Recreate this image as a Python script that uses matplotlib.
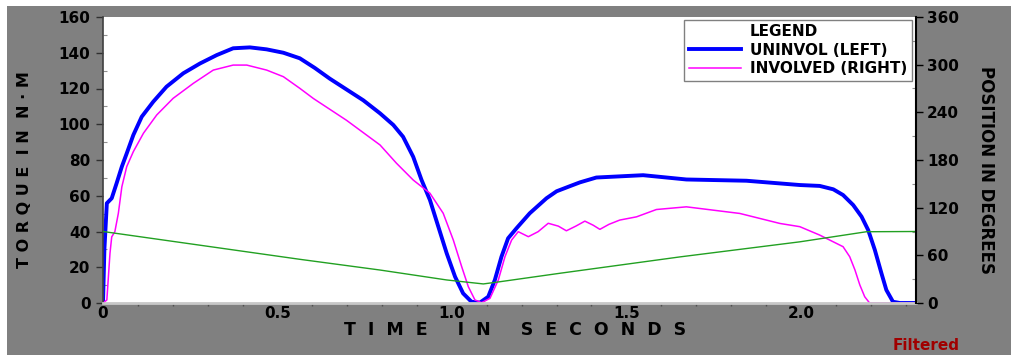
import numpy as np
import matplotlib.pyplot as plt
from matplotlib.lines import Line2D
from matplotlib.patches import Rectangle
from matplotlib.ticker import MultipleLocator

# uninvolved side torque (N-m)
t_left = [0, 0.004, 0.011, 0.025, 0.039, 0.054, 0.068, 0.087, 0.111, 0.144, 0.182,
          0.23, 0.278, 0.326, 0.373, 0.421, 0.469, 0.517, 0.564, 0.607, 0.65, 0.746,
          0.794, 0.832, 0.86, 0.889, 0.913, 0.937, 0.961, 0.985, 1.009, 1.032,
          1.056, 1.08, 1.104, 1.123, 1.142, 1.161, 1.185, 1.223, 1.271, 1.3,
          1.34, 1.367, 1.414, 1.548, 1.672, 1.844, 1.997, 2.054, 2.093, 2.121, 2.15,
          2.174, 2.193, 2.212, 2.231, 2.245, 2.264, 2.284, 2.33]
torque_left = [0, 30, 55.8, 58.6, 67, 76.3, 83.7, 94, 104.2, 112.6, 121,
               128.5, 134, 138.7, 142.5, 143, 141.9, 140, 136.9, 131.5, 125.5, 113.4,
               106.1, 99.6, 93, 81.8, 68.8, 57.6, 42.7, 27.8, 14.7, 5.4,
               0.7, 0.2, 3.5, 12.9, 25.9, 36.2, 41.8, 50.2, 58.6, 62.5,
               65.5, 67.5, 70.2, 71.5, 69.1, 68.4, 66, 65.5, 63.6, 60.4, 54.8,
               48.3, 40.8, 29.7, 16.6, 7.3, 0.7, 0, 0]

# involved side torque (N-m)
t_right = [0, 0.011, 0.02, 0.025, 0.034, 0.044, 0.054, 0.068, 0.087, 0.116, 0.154,
           0.201, 0.259, 0.316, 0.373, 0.412, 0.469, 0.517, 0.564, 0.603, 0.698,
           0.794, 0.841, 0.889, 0.937, 0.975, 1.004, 1.028, 1.047, 1.066, 1.085,
           1.109, 1.133, 1.152, 1.171, 1.19, 1.219, 1.247, 1.276, 1.305, 1.328,
           1.355, 1.381, 1.405, 1.424, 1.45, 1.481, 1.529, 1.586, 1.672, 1.825,
           1.94, 1.997, 2.054, 2.121, 2.14, 2.155, 2.169, 2.183, 2.197, 2.33]
torque_right = [0, 1.7, 27.8, 37, 39.9, 50.2, 65, 76.3, 84.7, 95, 105.2,
                114.5, 122.9, 130.3, 133.1, 133.1, 130.3, 126.6, 120.1, 114.4, 102.2,
                88.4, 78.2, 68.8, 61.4, 50.2, 35.2, 20.3, 9.1, 1.7, 0.2,
                2.6, 12.9, 25.9, 35.2, 39.9, 37.1, 39.9, 44.6, 43, 40.4,
                43, 45.8, 43.5, 41.2, 44, 46.4, 48.2, 52.3, 53.8, 50.1,
                44.5, 42.7, 38, 31.5, 25.9, 18.5, 10.1, 3.5, 0, 0]

# joint position (degrees)
t_pos = [0, 0.564, 0.794, 0.985, 1.09, 1.138, 1.309, 1.653, 1.997, 2.188, 2.33]
position = [90, 55, 41.5, 29, 24, 26.8, 37.4, 58, 77, 89.7, 90]

x_ticks = [0, 0.5, 1.0, 1.5, 2.0]
x_ticklabels = ['0', '0.5', '1.0', '1.5', '2.0']

fig = plt.figure(figsize=(10.11, 3.55), dpi=100, facecolor='white')
fig.patches.append(Rectangle((7 / 1011, 0), 1, (355 - 6) / 355,
                             transform=fig.transFigure, facecolor='#808080',
                             edgecolor='none', zorder=-10))

ax = fig.add_axes([103 / 1011, 52 / 355, 813 / 1011, 286 / 355])
ax.set_facecolor('white')
ax.plot(t_left, torque_left, color='#0000ff', lw=2.8,
        solid_joinstyle='round', solid_capstyle='round')
ax.plot(t_right, torque_right, color='#ff00ff', lw=1.1)
ax.set_xlim(0, 2.33)
ax.set_ylim(0, 160)
ax.set_xticks(x_ticks)
ax.set_xticklabels(x_ticklabels)
ax.xaxis.set_minor_locator(MultipleLocator(0.1))
ax.yaxis.set_major_locator(MultipleLocator(20))
ax.yaxis.set_minor_locator(MultipleLocator(10))

tick_font = dict(fontsize=11, fontweight='bold', color='black')
for lab in ax.get_xticklabels() + ax.get_yticklabels():
    lab.set(**tick_font)
ax.tick_params(axis='y', which='major', direction='out', length=5, width=1, color='#303030', pad=4)
ax.tick_params(axis='y', which='minor', direction='in', length=3, width=0.8, color='#909090')
ax.tick_params(axis='x', which='major', direction='out', length=0, pad=2)
ax.tick_params(axis='x', which='minor', direction='out', length=2, width=1, color='#505050')

ax.spines['top'].set_visible(False)
ax.spines['right'].set_visible(False)
ax.spines['left'].set_color('#404040')
ax.spines['left'].set_linewidth(1.2)
ax.spines['bottom'].set_color('#c8c8c8')
ax.spines['bottom'].set_linewidth(2)

ax2 = ax.twinx()
ax2.plot(t_pos, position, color='#22a022', lw=1.0)
ax2.set_ylim(0, 360)
ax2.yaxis.set_major_locator(MultipleLocator(60))
ax2.yaxis.set_minor_locator(MultipleLocator(30))
for lab in ax2.get_yticklabels():
    lab.set(**tick_font)
ax2.tick_params(axis='y', which='major', direction='out', length=5, width=1, color='black', pad=3)
ax2.tick_params(axis='y', which='minor', direction='in', length=3, width=0.8, color='#909090')
for side in ['top', 'left', 'bottom']:
    ax2.spines[side].set_visible(False)
ax2.spines['right'].set_color('black')
ax2.spines['right'].set_linewidth(1.5)

handles = [Line2D([], [], color='none'),
           Line2D([], [], color='#0000ff', lw=2.8),
           Line2D([], [], color='#ff00ff', lw=1.1)]
labels = ['LEGEND', 'UNINVOL (LEFT)', 'INVOLVED (RIGHT)']
leg = ax2.legend(handles, labels, loc='upper right', bbox_to_anchor=(0.995, 0.99),
                 prop=dict(size=11, weight='bold'), frameon=True, fancybox=False,
                 edgecolor='#808080', framealpha=1, handlelength=3.4,
                 labelspacing=0.22, borderpad=0.3, handletextpad=0.6,
                 borderaxespad=0)
leg.get_frame().set_linewidth(1.0)

fig.text(25 / 1011, 1 - 170 / 355, 'T O R Q U E  I N  N · M', rotation=90,
         ha='center', va='center', fontsize=11.5, fontweight='bold', color='black')
fig.text(986 / 1011, 1 - 170 / 355, 'POSITION IN DEGREES', rotation=270,
         ha='center', va='center', fontsize=12, fontweight='bold', color='black')
fig.text(515 / 1011, 1 - 330 / 355, 'T  I  M  E     I  N     S  E  C  O  N  D  S',
         ha='center', va='center', fontsize=12.5, fontweight='bold', color='black')
fig.text(926 / 1011, 1 - 346 / 355, 'Filtered', ha='center', va='center',
         fontsize=11, fontweight='bold', color='#a00000')

fig.savefig('out.png', dpi=100, facecolor=fig.get_facecolor())
